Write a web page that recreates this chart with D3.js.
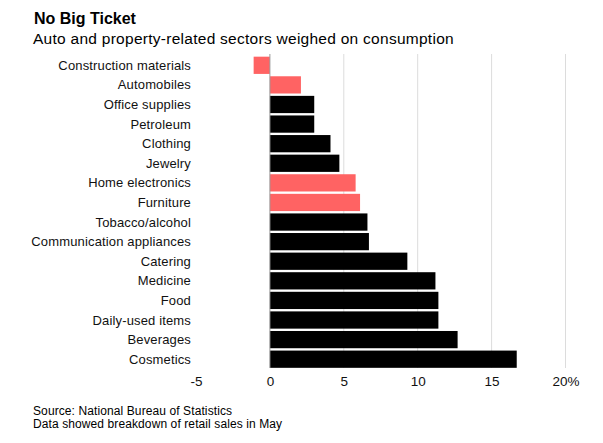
<!DOCTYPE html>
<html><head><meta charset="utf-8">
<script src="https://cdn.jsdelivr.net/npm/d3@7"></script>
<style>
body{margin:0;background:#fff;}
text{font-family:"Liberation Sans",Arial,Helvetica,sans-serif;}
</style></head>
<body>
<svg id="chart" width="603" height="443"></svg>
<script>
const categories = ["Construction materials","Automobiles","Office supplies","Petroleum","Clothing","Jewelry","Home electronics","Furniture","Tobacco/alcohol","Communication appliances","Catering","Medicine","Food","Daily-used items","Beverages","Cosmetics"];
const values = [-1.1,2.1,3.0,3.0,4.1,4.7,5.8,6.1,6.6,6.7,9.3,11.2,11.4,11.4,12.7,16.7];
const highlighted = ["Construction materials","Automobiles","Home electronics","Furniture"];
const tickValues = [-5,0,5,10,15,20];
const tickLabels = ["-5","0","5","10","15","20%"];

const svg = d3.select("#chart");
const x = d3.scaleLinear().domain([-5,20]).range([196,565.5]);
const y = d3.scaleBand().domain(categories).range([55.5,369]).paddingInner(0.12).paddingOuter(0.06);

// title
svg.append("text").attr("x",34).attr("y",24).attr("font-size",16).attr("font-weight","bold").attr("fill","#000").text("No Big Ticket");
svg.append("text").attr("x",33).attr("y",43.5).attr("font-size",15.5).attr("letter-spacing",0.27).attr("fill","#000").text("Auto and property-related sectors weighed on consumption");

// grid
const gTop = 54, gBot = 368;
svg.append("g").selectAll("line").data(tickValues.filter(d=>d>0)).join("line")
  .attr("x1",d=>x(d)).attr("x2",d=>x(d)).attr("y1",gTop).attr("y2",gBot)
  .attr("stroke","#dcdcdc").attr("stroke-width",1);

// bars
svg.append("g").selectAll("rect").data(categories).join("rect")
  .attr("x",(d,i)=>x(Math.min(0,values[i])))
  .attr("width",(d,i)=>Math.abs(x(values[i])-x(0)))
  .attr("y",d=>y(d)).attr("height",y.bandwidth())
  .attr("fill",d=>highlighted.includes(d)?"#ff6363":"#000");

// zero line
svg.append("line").attr("x1",x(0)).attr("x2",x(0)).attr("y1",gTop).attr("y2",gBot)
  .attr("stroke","#999").attr("stroke-width",1);

// category labels
svg.append("g").selectAll("text").data(categories).join("text")
  .attr("x",191).attr("y",d=>y(d)+y.bandwidth()/2).attr("dy","0.35em")
  .attr("text-anchor","end").attr("font-size",13).attr("letter-spacing",0.15).attr("fill","#111").text(d=>d);

// x axis
const xAxis = d3.axisBottom(x).tickValues(tickValues).tickSize(0).tickPadding(0)
  .tickFormat((d,i)=>tickLabels[i]);
const ax = svg.append("g").attr("transform","translate(0,376)").call(xAxis);
ax.select(".domain").remove();
ax.selectAll("text").attr("font-size",13.5).attr("fill","#111").attr("dy","0.71em")
  .style("font-family","'Liberation Sans',Arial,sans-serif");

// footer
svg.append("text").attr("x",33).attr("y",414.5).attr("font-size",12).attr("letter-spacing",0.1).attr("fill","#000").text("Source: National Bureau of Statistics");
svg.append("text").attr("x",33).attr("y",427.5).attr("font-size",12).attr("letter-spacing",0.1).attr("fill","#000").text("Data showed breakdown of retail sales in May");
</script>
</body></html>
